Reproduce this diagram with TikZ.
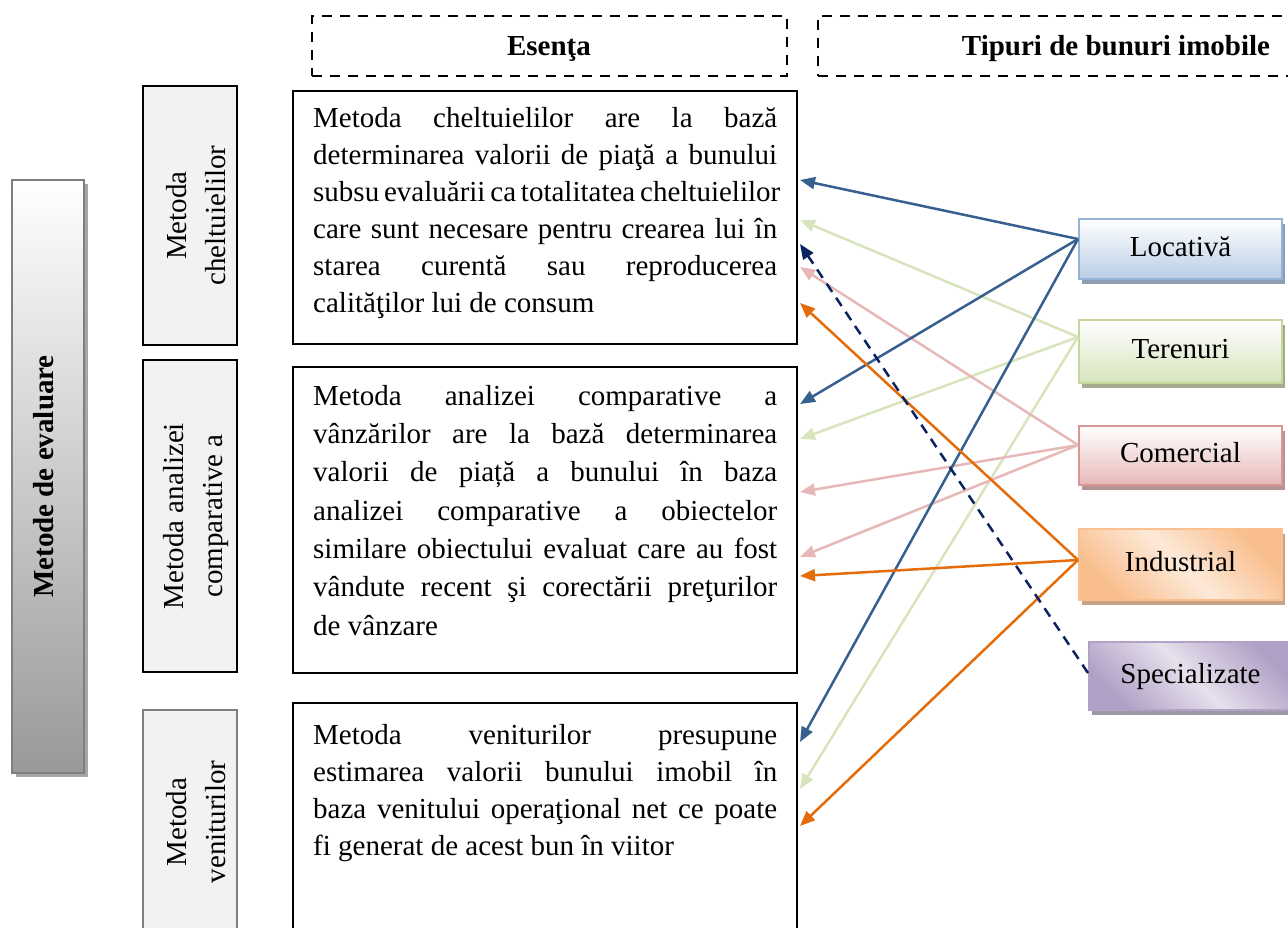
\documentclass[tikz,border=0pt]{standalone}
\usepackage{fontspec}
\setmainfont{Liberation Serif}
\usetikzlibrary{arrows.meta,shadows}
\definecolor{cLocB}{HTML}{95B3D7}
\definecolor{cLocF}{HTML}{B9CDE5}
\definecolor{cLocS}{HTML}{8E9DB3}
\definecolor{cTerB}{HTML}{C3D69B}
\definecolor{cTerF}{HTML}{D7E4BD}
\definecolor{cTerS}{HTML}{A4AC8E}
\definecolor{cComB}{HTML}{D99694}
\definecolor{cComF}{HTML}{E6B9B8}
\definecolor{cComS}{HTML}{B59494}
\definecolor{cIndB}{HTML}{FAC090}
\definecolor{cIndF}{HTML}{F9BE8C}
\definecolor{cIndL}{HTML}{FDE9D9}
\definecolor{cIndS}{HTML}{C8A285}
\definecolor{cSpeB}{HTML}{B3A2C7}
\definecolor{cSpeF}{HTML}{B1A0C6}
\definecolor{cSpeL}{HTML}{E6E0EC}
\definecolor{cSpeS}{HTML}{9E99A6}
\definecolor{aBlue}{HTML}{37608F}
\definecolor{aGreen}{HTML}{D7E4BD}
\definecolor{aPink}{HTML}{E6B9B8}
\definecolor{aOrange}{HTML}{E46C0A}
\definecolor{aNavy}{HTML}{0B2360}
\definecolor{mFill}{HTML}{F2F2F2}
\definecolor{mGray}{HTML}{7F7F7F}
\definecolor{eShadow}{HTML}{A6A6A6}
\newcommand\jline[1]{\hbox to 464pt{#1}}
\begin{document}
\begin{tikzpicture}[x=1pt,y=-1pt,
  hdr/.style={draw=black,line width=2.8pt,dash pattern=on 10pt off 8pt},
  hlabel/.style={font=\fontsize{29}{35}\selectfont\bfseries,anchor=base,inner sep=0},
  mbox/.style={draw=black,line width=2pt,fill=mFill,minimum width=94pt,inner sep=0},
  mlabel/.style={rotate=90,align=center,font=\fontsize{29}{39}\selectfont,inner sep=0},
  tbox/.style={draw=black,line width=2pt,minimum width=504pt,inner sep=0},
  ttext/.style={anchor=north west,inner sep=0},
  rbox/.style={line width=2pt,minimum width=203pt,inner sep=0,font=\fontsize{29}{35}\selectfont,text height=20pt,text depth=6pt},
  shad/.style={drop shadow={shadow xshift=3pt,shadow yshift=-5pt,fill=#1,opacity=1}},
  arr/.style={line width=2.5pt,-{Triangle[length=15pt,width=12pt]}}
]
\useasboundingbox (0,0) rectangle (1288,928);
\clip (0,0) rectangle (1288,928);

% headers
\node[hdr,minimum width=475pt,minimum height=60pt,inner sep=0] (h1) at (549.5,46) {};
\node[hdr,minimum width=490pt,minimum height=60pt,inner sep=0] (h2) at (1063,46) {};
\node[hlabel] (h1t) at (549,56) {Esenţa};
\node[hlabel] (h2t) at (1116,56) {Tipuri de bunuri imobile};

% left big box
\node[draw=mGray,line width=2.5pt,top color=white,bottom color=black!40,
      minimum width=72pt,minimum height=593pt,inner sep=0,
      drop shadow={shadow xshift=4pt,shadow yshift=-4pt,fill=eShadow,opacity=1}] (ev) at (48,476.5) {};
\node[rotate=90,font=\fontsize{29}{35}\selectfont\bfseries,inner sep=0] (evt) at (44,476.5) {Metode de evaluare};

% method boxes
\node[mbox,minimum height=259pt] (m1) at (190,215.5) {};
\node[mlabel] (m1t) at (196,215.5) {Metoda\\cheltuielilor};
\node[mbox,minimum height=312pt] (m2) at (190,516) {};
\node[mlabel] (m2t) at (196,516) {Metoda analizei\\comparative a};
\node[mbox,draw=mGray,line width=2.5pt,minimum height=225pt] (m3) at (190,822.5) {};
\node[mlabel] (m3t) at (196,822) {Metoda\\veniturilor};

% text boxes
\node[tbox,minimum height=253pt] (tA) at (545,217.5) {};
\node[ttext] (tAt) at (313,107) {\vbox{\fontsize{29}{37}\selectfont
\jline{\rule{0pt}{20pt}Metoda cheltuielilor are la bază}%
\jline{determinarea valorii de piaţă a bunului}%
\jline{subsu evaluării ca totalitatea cheltuielilor}%
\jline{care sunt necesare pentru crearea lui în}%
\jline{starea curentă sau reproducerea}%
\hbox{calităţilor lui de consum}}};

\node[tbox,minimum height=306pt] (tB) at (545,520) {};
\node[ttext] (tBt) at (313,385) {\vbox{\fontsize{29}{38.3}\selectfont
\jline{\rule{0pt}{20pt}Metoda analizei comparative a}%
\jline{vânzărilor are la bază determinarea}%
\jline{valorii de piață a bunului în baza}%
\jline{analizei comparative a obiectelor}%
\jline{similare obiectului evaluat care au fost}%
\jline{vândute recent şi corectării preţurilor}%
\hbox{de vânzare}}};

\node[tbox,minimum height=232pt] (tC) at (545,819) {};
\node[ttext] (tCt) at (313,724) {\vbox{\fontsize{29}{37}\selectfont
\jline{\rule{0pt}{20pt}Metoda veniturilor presupune}%
\jline{estimarea valorii bunului imobil în}%
\jline{baza venitului operaţional net ce poate}%
\hbox{fi generat de acest bun în viitor}}};

% right boxes
\node[rbox,draw=cLocB,top color=white,bottom color=cLocF,minimum height=60pt,shad=cLocS] (loc) at (1180.5,249) {Locativă};
\node[rbox,draw=cTerB,top color=white,bottom color=cTerF,minimum height=63pt,shad=cTerS] (ter) at (1180.5,351.5) {Terenuri};
\node[rbox,draw=cComB,top color=white,bottom color=cComF,minimum height=59pt,shad=cComS] (com) at (1180.5,455.5) {Comercial};
\node[rbox,draw=cIndB,top color=cIndF,bottom color=cIndF,middle color=cIndL,shading angle=-45,minimum height=71pt,shad=cIndS] (ind) at (1180.5,564.5) {Industrial};
\node[rbox,draw=cSpeB,top color=cSpeF,bottom color=cSpeF,middle color=cSpeL,shading angle=-45,minimum height=68pt,shad=cSpeS] (spe) at (1190.5,676) {Specializate};

% connectors
\draw[arr,aGreen] ([yshift=14.5pt]ter.west) -- ([xshift=2pt,yshift=-130pt]tA.north east);
\draw[arr,aGreen] ([yshift=14.5pt]ter.west) -- ([xshift=2pt,yshift=-73pt]tB.north east);
\draw[arr,aGreen] ([yshift=14.5pt]ter.west) -- ([xshift=2pt,yshift=-87pt]tC.north east);
\draw[arr,aPink] ([yshift=10.5pt]com.west) -- ([xshift=2pt,yshift=-177pt]tA.north east);
\draw[arr,aPink] ([yshift=10.5pt]com.west) -- ([xshift=2pt,yshift=-126pt]tB.north east);
\draw[arr,aPink] ([yshift=10.5pt]com.west) -- ([xshift=2pt,yshift=-191pt]tB.north east);
\draw[arr,aBlue] ([yshift=10pt]loc.west) -- ([xshift=2pt,yshift=-90pt]tA.north east);
\draw[arr,aBlue] ([yshift=10pt]loc.west) -- ([xshift=2pt,yshift=-38pt]tB.north east);
\draw[arr,aBlue] ([yshift=10pt]loc.west) -- ([xshift=2pt,yshift=-40pt]tC.north east);
\draw[arr,aOrange] ([yshift=4.5pt]ind.west) -- ([xshift=2pt,yshift=-213pt]tA.north east);
\draw[arr,aOrange] ([yshift=4.5pt]ind.west) -- ([xshift=2pt,yshift=-210pt]tB.north east);
\draw[arr,aOrange] ([yshift=4.5pt]ind.west) -- ([xshift=2pt,yshift=-124pt]tC.north east);
\draw[arr,aNavy,dash pattern=on 10pt off 7pt] ([yshift=3pt]spe.west) -- ([xshift=2pt,yshift=-154pt]tA.north east);
\end{tikzpicture}
\end{document}
